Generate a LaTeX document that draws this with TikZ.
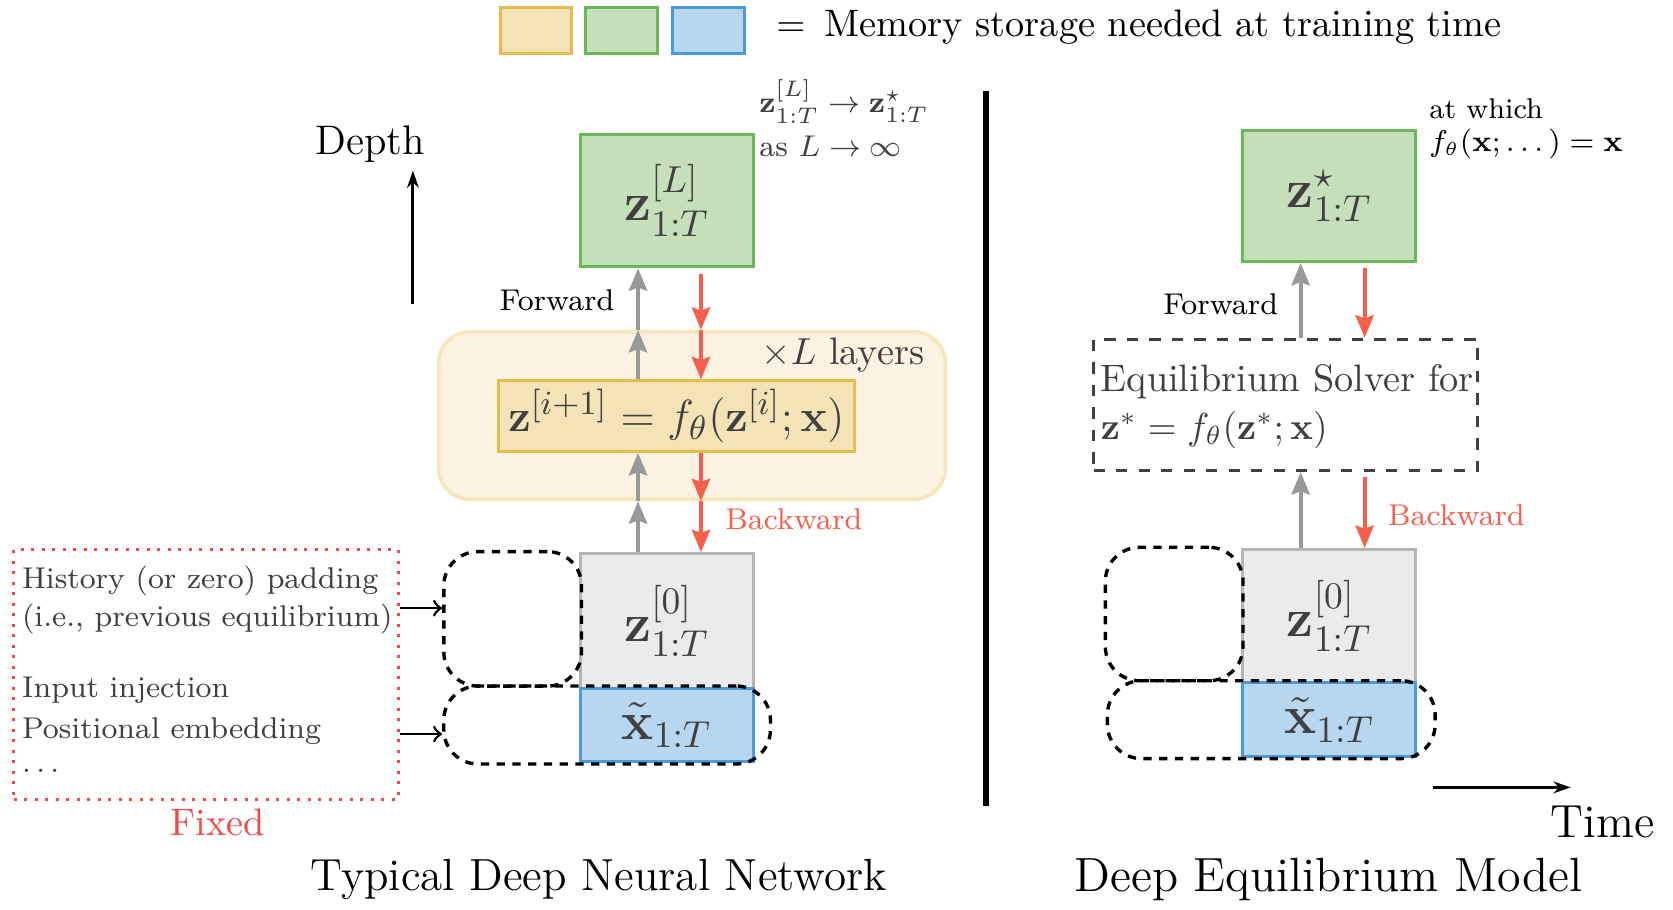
\documentclass[tikz,border=0pt]{standalone}
\usepackage{amsmath,amssymb}
\usetikzlibrary{arrows.meta}

\definecolor{memyellow}{HTML}{F5E3B8}
\definecolor{memyellowdraw}{HTML}{E5BC4E}
\definecolor{memgreen}{HTML}{C5DFBA}
\definecolor{memgreendraw}{HTML}{6BB85A}
\definecolor{memblue}{HTML}{B7D6F0}
\definecolor{membluedraw}{HTML}{4B9BDB}
\definecolor{initgray}{HTML}{EBEBEB}
\definecolor{initgraydraw}{HTML}{B5B5B5}
\definecolor{layerbg}{HTML}{FBF2E1}
\definecolor{layerdraw}{HTML}{F5E6BE}
\definecolor{fwdgray}{HTML}{999999}
\definecolor{bwdred}{HTML}{F55F4B}
\definecolor{fixedred}{HTML}{F24A4A}
\definecolor{txtgray}{HTML}{404040}

\tikzset{
  bigtext/.style={font=\fontsize{10.2}{13}\selectfont},
  titletext/.style={font=\fontsize{12}{14}\selectfont},
  smalltext/.style={font=\fontsize{8}{10}\selectfont},
  notetext/.style={font=\fontsize{7.6}{9}\selectfont},
  midtext/.style={font=\fontsize{10.2}{12.5}\selectfont},
  statebox/.style={draw, line width=0.8pt, inner sep=0pt, text=txtgray,
    minimum width=1.62cm, font=\fontsize{14}{16}\selectfont},
  legendbox/.style={draw, line width=0.8pt, minimum width=0.67cm, minimum height=0.43cm},
  fwd/.style={draw=fwdgray, line width=1.1pt, -{Stealth[length=0.21cm, width=0.17cm, inset=0.03cm]}},
  bwd/.style={draw=bwdred, line width=1.1pt, -{Stealth[length=0.21cm, width=0.17cm, inset=0.03cm]}},
  blob/.style={draw, line width=0.9pt, dash pattern=on 2.2pt off 2pt, rounded corners=0.32cm,
    inner sep=0pt},
  axisarrow/.style={line width=0.8pt, -{Stealth[length=0.16cm, width=0.11cm]}}
}

\begin{document}
\begin{tikzpicture}[x=0.01cm, y=-0.01cm]
  \useasboundingbox (0,0) rectangle (1568,852);

  %%%%%%%%%%%%%Legend%%%%%%%%%%%%%%%%%%%%%%
  \node[legendbox, fill=memyellow, draw=memyellowdraw] (legy) at (502.5,28.5) {};
  \node[legendbox, fill=memgreen, draw=memgreendraw] (legg) at (582.5,28.5) {};
  \node[legendbox, fill=memblue, draw=membluedraw] (legb) at (664,28.5) {};
  \node[bigtext, anchor=west, inner sep=0pt] (legtext) at (727,25)
    {$=$\enspace Memory storage needed at training time};

  %%%%%%%%%%%%%Typical deep network%%%%%%%%%%%%%%%%%%%%%%
  \node[font=\fontsize{11}{13}\selectfont] (depth) at (347,135) {Depth};
  \coordinate (depthlo) at (387,285);
  \coordinate (depthhi) at (387,160);
  \draw[axisarrow] (depthlo) -- (depthhi);

  \node[statebox, fill=memgreen, draw=memgreendraw, minimum height=1.24cm] (zL) at (625,188)
    {$\mathbf{z}^{[L]}_{1:T}$};
  \node[smalltext, text=txtgray, anchor=west, inner sep=0pt] (limit) at (711,95)
    {$\mathbf{z}^{[L]}_{1:T}\rightarrow\mathbf{z}^{\star}_{1:T}$};
  \node[smalltext, text=txtgray, anchor=west, inner sep=0pt] (aslim) at (711,137)
    {as $L\rightarrow\infty$};

  \node[draw=layerdraw, fill=layerbg, line width=1pt, rounded corners=0.3cm,
    minimum width=4.75cm, minimum height=1.57cm] (layers) at (648.5,389.5) {};
  \node[midtext, text=txtgray] (times) at (790,333) {$\times L$ layers};
  \node[statebox, fill=memyellow, draw=memyellowdraw, minimum width=3.34cm, minimum height=0.66cm,
    font=\fontsize{13}{15}\selectfont] (layer) at (634,390)
    {$\mathbf{z}^{[i+1]}=f_\theta(\mathbf{z}^{[i]};\mathbf{x})$};

  \node[statebox, fill=initgray, draw=initgraydraw, minimum height=1.26cm] (z0) at (625,582)
    {$\mathbf{z}^{[0]}_{1:T}$};
  \node[statebox, fill=memblue, draw=membluedraw, minimum height=0.69cm] (xt) at (625,679.5)
    {$\tilde{\mathbf{x}}_{1:T}$};
  \node[blob, minimum width=1.29cm, minimum height=1.26cm] (padblob) at (480.5,580) {};
  \node[blob, minimum width=3.06cm, minimum height=0.73cm] (injblob) at (569,679.5) {};

  \coordinate (fwdL) at (598,0);
  \coordinate (bwdL) at (657,0);
  \draw[fwd] (layer.north -| fwdL) -- (layers.north -| fwdL);
  \draw[fwd] (layers.north -| fwdL) -- (zL.south -| fwdL);
  \draw[fwd] (z0.north -| fwdL) -- (layers.south -| fwdL);
  \draw[fwd] (layers.south -| fwdL) -- (layer.south -| fwdL);
  \draw[bwd, shorten <=0.05cm] (zL.south -| bwdL) -- (layers.north -| bwdL);
  \draw[bwd] (layers.north -| bwdL) -- (layer.north -| bwdL);
  \draw[bwd] (layer.south -| bwdL) -- (layers.south -| bwdL);
  \draw[bwd] (layers.south -| bwdL) -- (z0.north -| bwdL);
  \node[smalltext] (fwdtxtL) at (522,281) {Forward};
  \node[smalltext, text=bwdred] (bwdtxtL) at (744,487) {Backward};

  \node[draw=fixedred, dotted, line width=0.8pt, minimum width=3.6cm, minimum height=2.34cm]
    (fixed) at (193,632) {};
  \node[smalltext, text=txtgray, anchor=west, inner sep=0pt] (hist) at (20,545) {History (or zero) padding};
  \node[smalltext, text=txtgray, anchor=west, inner sep=0pt] (prev) at (20,580) {(i.e., previous equilibrium)};
  \node[smalltext, text=txtgray, anchor=west, inner sep=0pt] (inj) at (20,647) {Input injection};
  \node[smalltext, text=txtgray, anchor=west, inner sep=0pt] (pos) at (20,685) {Positional embedding};
  \node[smalltext, text=txtgray, anchor=west, inner sep=0pt] (etc) at (20,722) {$\ldots$};
  \node[midtext, text=fixedred] (fixedtxt) at (204,771) {Fixed};
  \draw[-to, line width=0.7pt] ([yshift=0.1cm]fixed.east |- padblob.west) -- ([yshift=0.1cm]padblob.west);
  \draw[-to, line width=0.7pt] ([yshift=-0.085cm]fixed.east |- injblob.west) -- ([yshift=-0.085cm]injblob.west);

  \node[titletext] (titleL) at (561,824) {Typical Deep Neural Network};

  %%%%%%%%%%%%%Divider%%%%%%%%%%%%%%%%%%%%%%
  \coordinate (divtop) at (924,85);
  \coordinate (divbot) at (924,755);
  \draw[line width=1.5pt] (divtop) -- (divbot);

  %%%%%%%%%%%%%Deep equilibrium model%%%%%%%%%%%%%%%%%%%%%%
  \node[statebox, fill=memgreen, draw=memgreendraw, minimum height=1.23cm] (zstar) at (1246,183.5)
    {$\mathbf{z}^{\star}_{1:T}$};
  \node[notetext, anchor=west, inner sep=0pt] (atwhich) at (1339,102) {at which};
  \node[notetext, anchor=west, inner sep=0pt] (fixpt) at (1339,135)
    {$f_\theta(\mathbf{x};\dots)=\mathbf{x}$};

  \node[draw=txtgray, dashed, line width=0.8pt, minimum width=3.6cm, minimum height=1.23cm]
    (solver) at (1205,379.5) {};
  \node[midtext, text=txtgray, anchor=west, inner sep=0pt] (solvtxt) at (1031,358) {Equilibrium Solver for};
  \node[midtext, text=txtgray, anchor=west, inner sep=0pt] (solveq) at (1031,403)
    {$\mathbf{z}^{*}=f_\theta(\mathbf{z}^{*};\mathbf{x})$};

  \node[statebox, fill=initgray, draw=initgraydraw, minimum height=1.25cm] (z0R) at (1246,577.5)
    {$\mathbf{z}^{[0]}_{1:T}$};
  \node[statebox, fill=memblue, draw=membluedraw, minimum height=0.69cm] (xtR) at (1246,674.5)
    {$\tilde{\mathbf{x}}_{1:T}$};
  \node[blob, minimum width=1.29cm, minimum height=1.25cm] (padblobR) at (1100.5,575.5) {};
  \node[blob, minimum width=3.07cm, minimum height=0.73cm] (injblobR) at (1191.5,674.5) {};

  \coordinate (fwdR) at (1219,0);
  \coordinate (bwdR) at (1279,0);
  \draw[fwd] (solver.north -| fwdR) -- (zstar.south -| fwdR);
  \draw[fwd] (z0R.north -| fwdR) -- (solver.south -| fwdR);
  \draw[bwd, shorten <=0.05cm] (zstar.south -| bwdR) -- (solver.north -| bwdR);
  \draw[bwd, shorten <=0.05cm] (solver.south -| bwdR) -- (z0R.north -| bwdR);
  \node[smalltext] (fwdtxtR) at (1144,285) {Forward};
  \node[smalltext, text=bwdred] (bwdtxtR) at (1365,483) {Backward};

  \coordinate (timelo) at (1343,738);
  \coordinate (timehi) at (1472,738);
  \draw[axisarrow] (timelo) -- (timehi);
  \node[font=\fontsize{12.4}{14}\selectfont] (time) at (1502,770) {Time};

  \node[titletext, font=\fontsize{12.8}{15}\selectfont] (titleR) at (1245,824) {Deep Equilibrium Model};
\end{tikzpicture}
\end{document}
